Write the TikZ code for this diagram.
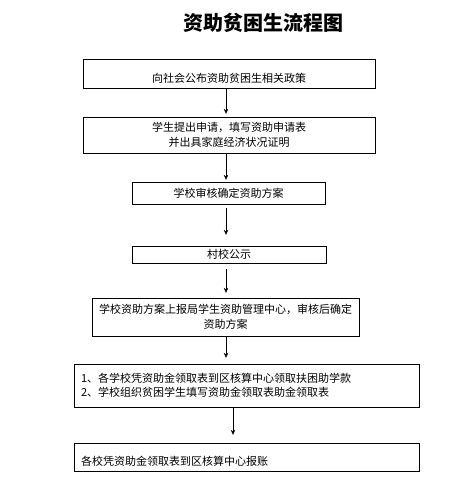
\documentclass[tikz,border=0pt]{standalone}
\usepackage{fontspec}
\setmainfont{Noto Sans CJK SC}
\usepackage{tikz}
\usetikzlibrary{positioning, calc, arrows, arrows.meta}
\tikzset{box/.style={draw, thin, inner xsep=2pt, inner ysep=2pt, font=\fontsize{11}{14.5}\selectfont}}
\tikzset{flow/.style={-{Stealth[length=5pt, width=4.5pt]}, thin}}

\begin{document}
\begin{tikzpicture}[x=1pt, y=-1pt]

      \useasboundingbox (0,0) rectangle (453,489);

      % TITLE

      \node[font=\fontsize{20}{20}\selectfont\bfseries] (title) at (263,23) {资助贫困生流程图};

      % BOXES

      \node[box, minimum width=292pt, text height=21pt, text depth=2pt, inner ysep=3pt] (pub) at (229,73.5) {向社会公布资助贫困生相关政策};
      \node[box, minimum width=292pt, minimum height=36pt, align=center] (apply) at (229,135) {学生提出申请，填写资助申请表\\ 并出具家庭经济状况证明};
      \node[box, minimum width=193pt, minimum height=22pt] (check) at (228.5,193) {学校审核确定资助方案};
      \node[box, minimum width=194pt, minimum height=17pt, inner ysep=0pt] (show) at (229,254.5) {村校公示};
      \node[box, minimum width=267pt, minimum height=38pt, align=center] (report) at (225.5,317) {学校资助方案上报局学生资助管理中心，审核后确定\\ 资助方案};
      \node[box, text width=331pt, inner xsep=7pt, minimum height=43pt, align=left] (fund) at (246.5,385.5) {1、各学校凭资助金领取表到区核算中心领取扶困助学款\\ 2、学校组织贫困学生填写资助金领取表助金领取表};
      \node[box, text width=331pt, inner xsep=7pt, text height=20pt, text depth=4pt, align=left] (account) at (246.5,457) {各校凭资助金领取表到区核算中心报账};

      % ARROWS

      \coordinate (ax) at (226,0);
      \coordinate (bx) at (233,0);
      \draw[flow, shorten >=3pt] (pub.south -| ax) -- (apply.north -| ax);
      \draw[flow, shorten >=2pt] (apply.south -| ax) -- (check.north -| ax);
      \draw[flow, shorten <=4pt, shorten >=11pt] (check.south -| ax) -- (show.north -| ax);
      \draw[flow, shorten <=6pt, shorten >=5pt] (show.south -| ax) -- (report.north -| ax);
      \draw[flow, shorten >=6pt] (report.south -| ax) -- (fund.north -| ax);
      \draw[flow, shorten >=8pt] (fund.south -| bx) -- (account.north -| bx);

    \end{tikzpicture}
\end{document}
